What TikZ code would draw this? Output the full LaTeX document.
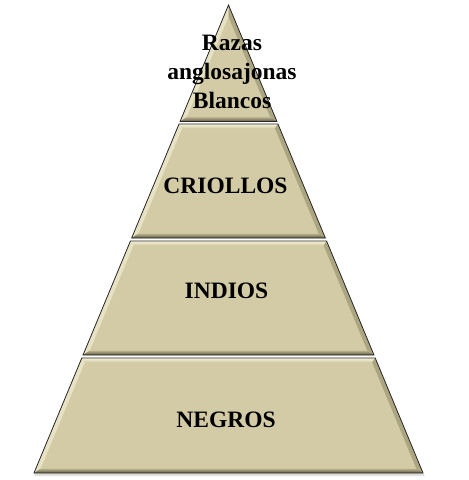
\documentclass[tikz,border=0pt]{standalone}
\usepackage{fontspec}
\setmainfont{Liberation Serif}
\definecolor{pyrfill}{RGB}{211,203,165}
\definecolor{pyrlight}{RGB}{246,242,218}
\definecolor{pyrleft}{RGB}{232,226,196}
\definecolor{pyrdark}{RGB}{95,90,66}
\definecolor{pyrright}{RGB}{172,165,130}
\newcommand\pyrlayer[3]{%
\pgfmathsetmacro\pyYa{#1}\pgfmathsetmacro\pyYb{#2}%
\pgfmathsetmacro\pyYc{#1+#3}\pgfmathsetmacro\pyYd{#2-4.5}%
\pgfmathsetmacro\pyXa{228.5-0.4156*(\pyYa-5)}%
\pgfmathsetmacro\pyXb{228.5+0.4156*(\pyYa-5)}%
\pgfmathsetmacro\pyXc{228.5-0.4156*(\pyYb-5)}%
\pgfmathsetmacro\pyXd{228.5+0.4156*(\pyYb-5)}%
\pgfmathsetmacro\pyXe{228.5-0.4156*(\pyYc-5)+4.86}%
\pgfmathsetmacro\pyXf{228.5+0.4156*(\pyYc-5)-4.86}%
\pgfmathsetmacro\pyXg{228.5-0.4156*(\pyYd-5)+4.86}%
\pgfmathsetmacro\pyXh{228.5+0.4156*(\pyYd-5)-4.86}%
\fill[pyrfill] (\pyXa,\pyYa) -- (\pyXb,\pyYa) -- (\pyXd,\pyYb) -- (\pyXc,\pyYb) -- cycle;
\shade[top color=pyrlight,bottom color=pyrfill] (\pyXa,\pyYa) -- (\pyXb,\pyYa) -- (\pyXf,\pyYc) -- (\pyXe,\pyYc) -- cycle;
\fill[pyrleft] (\pyXa,\pyYa) -- (\pyXe,\pyYc) -- (\pyXg,\pyYd) -- (\pyXc,\pyYb) -- cycle;
\fill[pyrright] (\pyXb,\pyYa) -- (\pyXf,\pyYc) -- (\pyXh,\pyYd) -- (\pyXd,\pyYb) -- cycle;
\shade[top color=pyrfill!80!pyrdark,bottom color=pyrdark] (\pyXc,\pyYb) -- (\pyXg,\pyYd) -- (\pyXh,\pyYd) -- (\pyXd,\pyYb) -- cycle;
\draw[pyredge] (\pyXa,\pyYa) -- (\pyXb,\pyYa) -- (\pyXd,\pyYb) -- (\pyXc,\pyYb) -- cycle;
}
\begin{document}
\begin{tikzpicture}[x=1pt,y=-1pt,
  pyredge/.style={draw=black!85,line width=0.8pt,line join=miter},
  lbl/.style={font=\fontsize{23.5}{29}\selectfont\bfseries,inner sep=0pt,align=center,text=black}]
\useasboundingbox (0,0) rectangle (469,480);
\fill[white] (0,0) rectangle (469,480);
\fill[black!12] (36,473) -- (423,473) -- (425,476) -- (34,476) -- cycle;
\pyrlayer{5}{121.5}{11.7}
\pyrlayer{124}{238}{4.5}
\pyrlayer{241}{355}{4.5}
\pyrlayer{358}{473}{4.5}
\node[lbl] (razas) at (232,71.5) {Razas\\anglosajonas\\Blancos};
\node[lbl,anchor=base] (criollos) at (225.5,193) {CRIOLLOS};
\node[lbl,anchor=base] (indios) at (226.5,298) {INDIOS};
\node[lbl,anchor=base] (negros) at (226,427) {NEGROS};
\end{tikzpicture}
\end{document}
